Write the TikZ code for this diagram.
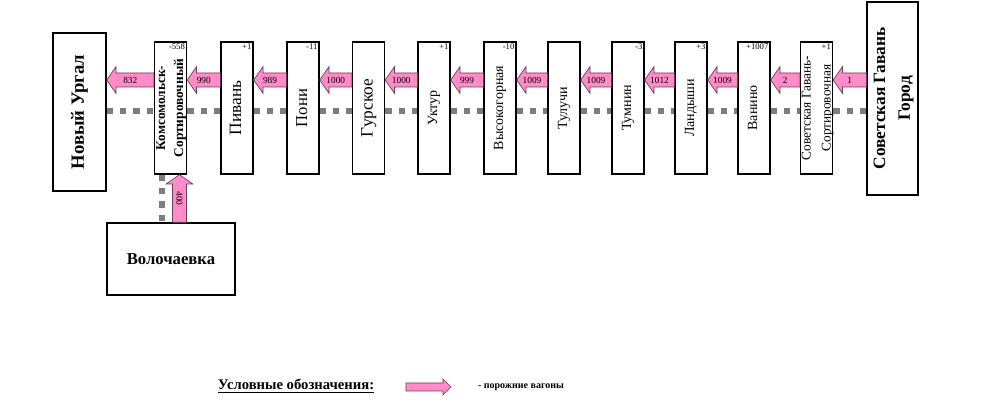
\documentclass[tikz,border=0pt]{standalone}
\usepackage{fontspec}
\setmainfont{Liberation Serif}
\usetikzlibrary{calc}
\definecolor{emptypink}{RGB}{255,140,200}
\definecolor{pinkedge}{RGB}{105,60,90}
\definecolor{trackgray}{RGB}{125,125,125}

% sizes of the fat wagon arrows
\def\bodyhalf{5.25pt}
\def\headhalf{10pt}
\def\headlen{7pt}

% #1 tail, #2 tip, #3 label, #4 label rotation
\newcommand{\wagonarrow}[4]{%
  \coordinate (hb) at ($#2!\headlen!#1$);
  \draw[wagon] ($#1!\bodyhalf!-90:#2$) -- ($(hb)!\bodyhalf!90:#1$) -- ($(hb)!\headhalf!90:#1$)
    -- #2 -- ($(hb)!\headhalf!-90:#1$) -- ($(hb)!\bodyhalf!-90:#1$) -- ($#1!\bodyhalf!90:#2$) -- cycle;
  \path #1 -- #2 node[midway, rotate=#4, font=\fontsize{7}{8}\selectfont] {#3};
}
\newcommand{\vtext}[1]{\makebox[0pt]{\rotatebox{90}{\begin{tabular}{@{}c@{}}#1\end{tabular}}}}

\begin{document}
\begin{tikzpicture}[
        x=0.75pt, y=-0.75pt,
        station/.style={rectangle, draw, line width=1pt, fill=white, inner sep=0pt, minimum width=24pt, minimum height=99pt},
        endstation/.style={rectangle, draw, line width=1pt, fill=white, inner sep=0pt},
        delta/.style={anchor=north east, inner sep=1.5pt, font=\fontsize{6.5}{7}\selectfont},
        wagon/.style={fill=emptypink, draw=pinkedge, line width=0.5pt},
        rail/.style={trackgray, line width=4.8pt, dash pattern=on 4.8pt off 5.2pt}
    ]
        \useasboundingbox (0,0) rectangle (989,409);
        \coordinate (flow) at (0,80);
        \coordinate (rail) at (0,111);
        \coordinate (vrail) at (162,0);
        \coordinate (vflow) at (179.5,0);

        % Terminal stations
        \node[endstation, minimum width=39.75pt, minimum height=118.5pt, font=\bfseries\fontsize{14}{16}\selectfont] (urgal) at (79.5,112) {\vtext{Новый Ургал}};
        \node[endstation, minimum width=38.25pt, minimum height=144.75pt, font=\bfseries\fontsize{13}{18.5}\selectfont] (gorod) at (892.5,98.5) {\vtext{Советская Гавань\\Город}};
        \node[endstation, minimum width=96pt, minimum height=54pt, font=\bfseries\fontsize{12.5}{14}\selectfont] (volo) at (171,259) {Волочаевка};

        % Intermediate stations
        \node[station, font=\bfseries\fontsize{10}{13.5}\selectfont, label={[delta]north east:-558}] (koms) at (170.5,108) {\vtext{Комсомольск-\\Сортировочный}};
        \node[station, font=\fontsize{13}{15}\selectfont, label={[delta]north east:+1}] (pivan) at (237,108) {\vtext{Пивань}};
        \node[station, font=\fontsize{12.5}{15}\selectfont, label={[delta]north east:-11}] (poni) at (303,108) {\vtext{Пони}};
        \node[station, font=\fontsize{13}{15}\selectfont] (gurskoe) at (368.5,108) {\vtext{Гурское}};
        \node[station, font=\fontsize{10.5}{12}\selectfont, label={[delta]north east:+1}] (uktur) at (434,108) {\vtext{Уктур}};
        \node[station, font=\fontsize{10.5}{12}\selectfont, label={[delta]north east:-10}] (vysok) at (500,108) {\vtext{Высокогорная}};
        \node[station, font=\fontsize{10.5}{12}\selectfont] (tuluchi) at (564,108) {\vtext{Тулучи}};
        \node[station, font=\fontsize{10.5}{12}\selectfont, label={[delta]north east:-3}] (tumnin) at (628,108) {\vtext{Тумнин}};
        \node[station, font=\fontsize{10.5}{12}\selectfont, label={[delta]north east:+3}] (landyshi) at (691,108) {\vtext{Ландыши}};
        \node[station, font=\fontsize{10.5}{12}\selectfont, label={[delta]north east:+1007}] (vanino) at (754,108) {\vtext{Ванино}};
        \node[station, font=\fontsize{10}{15}\selectfont, label={[delta]north east:+1}] (sgsort) at (816.5,108) {\vtext{Советская Гавань-\\Сортировочная}};

        % Track
        \foreach \a/\b in {urgal/koms, koms/pivan, pivan/poni, poni/gurskoe, gurskoe/uktur, uktur/vysok,
                           vysok/tuluchi, tuluchi/tumnin, tumnin/landyshi, landyshi/vanino, vanino/sgsort, sgsort/gorod}
            \draw[rail] (\a.east |- rail) -- (\b.west |- rail);
        \draw[rail] (koms.south -| vrail) -- (volo.north -| vrail);

        % Empty wagon flows
        \wagonarrow{(gorod.west |- flow)}{(sgsort.east |- flow)}{1}{0}
        \wagonarrow{(sgsort.west |- flow)}{(vanino.east |- flow)}{2}{0}
        \wagonarrow{(vanino.west |- flow)}{(landyshi.east |- flow)}{1009}{0}
        \wagonarrow{(landyshi.west |- flow)}{(tumnin.east |- flow)}{1012}{0}
        \wagonarrow{(tumnin.west |- flow)}{(tuluchi.east |- flow)}{1009}{0}
        \wagonarrow{(tuluchi.west |- flow)}{(vysok.east |- flow)}{1009}{0}
        \wagonarrow{(vysok.west |- flow)}{(uktur.east |- flow)}{999}{0}
        \wagonarrow{(uktur.west |- flow)}{(gurskoe.east |- flow)}{1000}{0}
        \wagonarrow{(gurskoe.west |- flow)}{(poni.east |- flow)}{1000}{0}
        \wagonarrow{(poni.west |- flow)}{(pivan.east |- flow)}{989}{0}
        \wagonarrow{(pivan.west |- flow)}{(koms.east |- flow)}{990}{0}
        \wagonarrow{(koms.west |- flow)}{(urgal.east |- flow)}{832}{0}
        \wagonarrow{(volo.north -| vflow)}{(koms.south -| vflow)}{400}{-90}

        % Legend
        \node[font=\bfseries\fontsize{11}{13}\selectfont] (legend) at (296,386) {\underline{Условные обозначения:}};
        \coordinate (legtail) at (406,387);
        \coordinate (legtip) at (451,387);
        \def\bodyhalf{3pt}
        \def\headhalf{6pt}
        \def\headlen{6pt}
        \wagonarrow{(legtail)}{(legtip)}{}{0}
        \node[font=\bfseries\fontsize{7.5}{9}\selectfont] (legtext) at (521,387) {- порожние вагоны};

    \end{tikzpicture}
\end{document}
